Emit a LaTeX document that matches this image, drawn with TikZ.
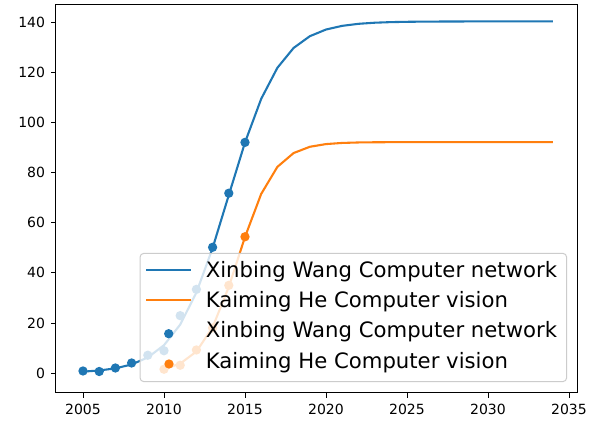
\documentclass[tikz,border=0pt]{standalone}
\usepackage{fontspec}
\setmainfont{DejaVu Sans}
\definecolor{mplblue}{HTML}{1F77B4}
\definecolor{mplorange}{HTML}{FF7F0E}
\begin{document}
\begin{tikzpicture}[x=0.75pt,y=0.75pt,
  ticklab/.style={font=\fontsize{10.5pt}{12pt}\selectfont, inner sep=0pt},
  legtext/.style={font=\fontsize{15.9pt}{18pt}\selectfont, inner sep=0pt, anchor=base west},
  curve/.style={line width=1.56pt, line join=round},
  dotb/.style={circle, fill=mplblue, inner sep=0pt, minimum size=7pt},
  doto/.style={circle, fill=mplorange, inner sep=0pt, minimum size=7pt},
  tickmark/.style={line width=0.6pt}]
\useasboundingbox (0,0) rectangle (594,421);
\fill[white] (0,0) rectangle (594,421);
% data scope: origin = (2005, 0)
\begin{scope}[shift={(62.25pt,36pt)}, x=12.15pt, y=1.878pt]
  \draw[curve, mplblue] plot[domain=0:29, samples=30] (\x, {140.4/(1+exp(-0.62*(\x-8.96)))});
  \draw[curve, mplorange] plot[domain=5:29, samples=25] (\x, {92.2/(1+exp(-0.88*(\x-9.59)))});
  \foreach \t/\v [count=\i] in {0/0.8,1/0.6,2/2.0,3/4.0,4/7.1,5/8.9,6/22.9,7/33.4,8/50.2,9/71.8,10/92.1}
    \node[dotb] (b\i) at (\t,\v) {};
  \foreach \t/\v [count=\i] in {5/1.5,6/3.1,7/9.2,8/18.0,9/35.0,10/54.4}
    \node[doto] (o\i) at (\t,\v) {};
  % x ticks
  \foreach \yr [count=\i] in {2005,2010,2015,2020,2025,2030,2035} {
    \coordinate (xt\i) at ({\yr-2005},-7.87);
    \draw[tickmark] (xt\i) -- ++(0,-1.96);
    \node[ticklab] (xl\i) at ({\yr-2005},-14.7) {\yr};
  }
  % y ticks
  \foreach \v [count=\i] in {0,20,40,60,80,100,120,140} {
    \coordinate (yt\i) at (-1.70,\v);
    \draw[tickmark] (yt\i) -- ++(-0.3,0);
    \node[ticklab, anchor=east] (yl\i) at (-2.33,\v) {\v};
  }
\end{scope}
% axes frame
\draw[line width=0.6pt] (55.5,28.3) rectangle (577,416.3);
% legend
\draw[rounded corners=3, fill=white, fill opacity=0.8, draw=black!20, line width=0.75pt]
  (140,39.3) rectangle (566.7,167.7);
\draw[curve, mplblue] (146,151) -- (190.7,151);
\draw[curve, mplorange] (146,120.7) -- (190.7,120.7);
\node[dotb] (lb) at (168.7,87.3) {};
\node[doto] (lo) at (169,57) {};
\node[legtext] (t1) at (205.5,143.3) {Xinbing Wang Computer network};
\node[legtext] (t2) at (205.5,113.3) {Kaiming He Computer vision};
\node[legtext] (t3) at (205.5,83.3) {Xinbing Wang Computer network};
\node[legtext] (t4) at (205.5,52.9) {Kaiming He Computer vision};
\end{tikzpicture}
\end{document}
